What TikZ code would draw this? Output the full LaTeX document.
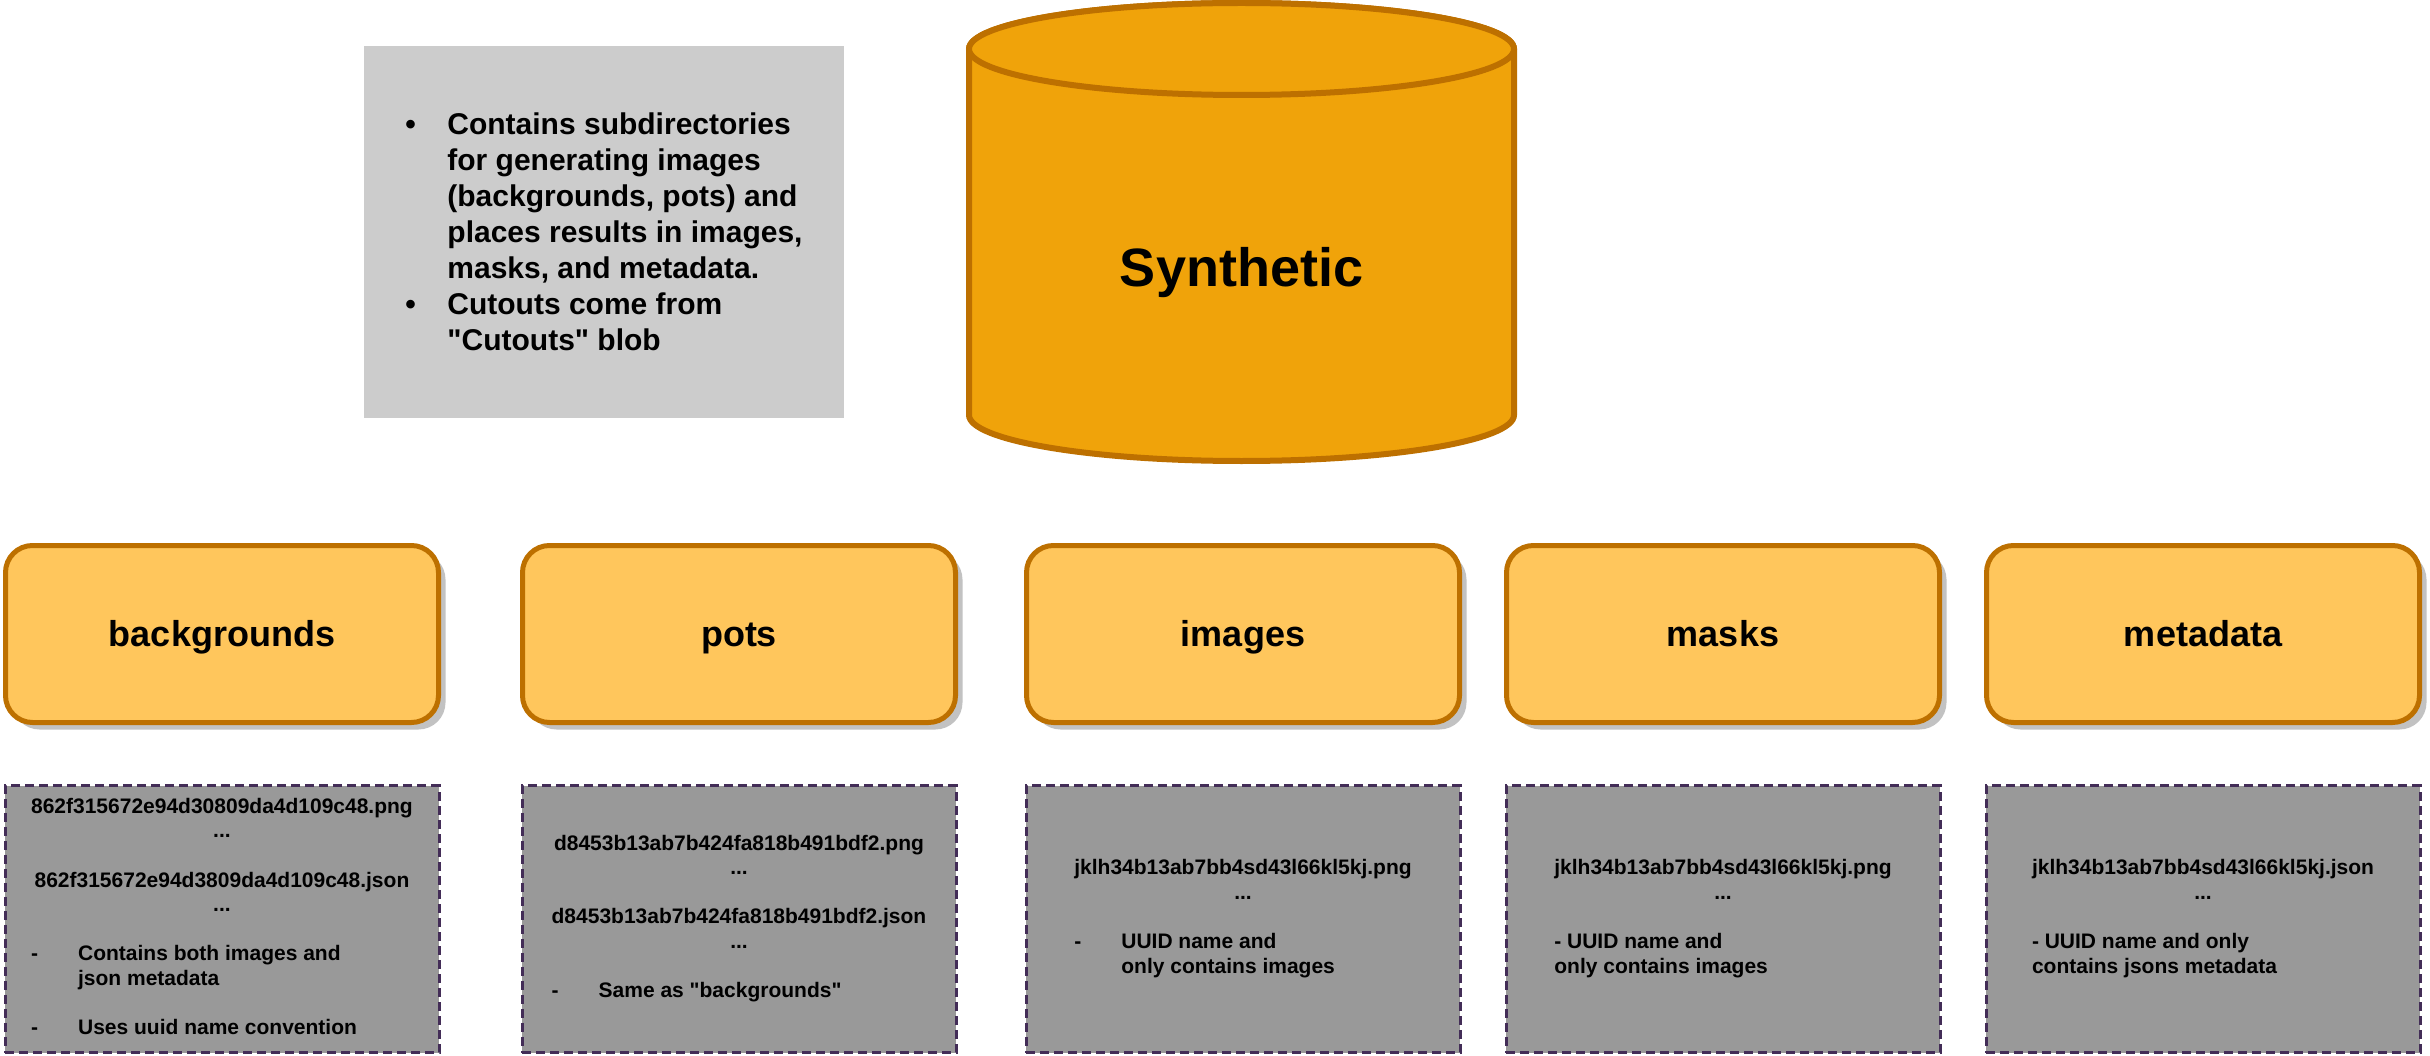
\documentclass[tikz,border=0pt]{standalone}
\usepackage{fontspec}
\setmainfont{Liberation Sans}
\usepackage{xcolor}
\usepackage{tikz}
\usetikzlibrary{shapes,positioning,shadows}
\definecolor{cylfill}{HTML}{F0A30A}
\definecolor{orangeline}{HTML}{BD7000}
\definecolor{dirfill}{HTML}{FFC65C}
\definecolor{notegray}{HTML}{CCCCCC}
\definecolor{filegray}{HTML}{999999}
\definecolor{filedash}{HTML}{432D57}
\definecolor{shadowgray}{HTML}{C2C2C2}
\newcommand{\itemdash}{\makebox[47pt][l]{-}}
\newcommand{\leftrow}[1]{\multicolumn{1}{@{}l@{}}{#1}}

\begin{document}
\begin{tikzpicture}[x=1pt, y=-1pt, node distance=59pt,
    dirbox/.style={draw=orangeline, fill=dirfill, line width=5pt, rounded corners=27pt,
        minimum width=433pt, minimum height=177pt, text height=32.6pt, text depth=7.6pt,
        font=\fontsize{36}{43}\selectfont\bfseries,
        drop shadow={shadow xshift=7pt, shadow yshift=-7pt, fill=shadowgray, opacity=1}},
    filebox/.style={draw=filedash, fill=filegray, line width=3pt, dash pattern=on 9pt off 5pt,
        minimum width=434pt, minimum height=267pt, inner sep=0pt,
        font=\fontsize{21}{24.6}\selectfont\bfseries},
    cylpart/.style={draw=orangeline, fill=cylfill, line width=6pt}]
\useasboundingbox (0,0) rectangle (2430,1056);

% note box
\node[fill=notegray, minimum width=480pt, minimum height=372pt, inner sep=0pt,
    align=left, font=\fontsize{30}{36}\selectfont\bfseries] (note) at (604,232) {%
    \makebox[42pt][l]{\textbullet}Contains subdirectories\\
    \hspace*{42pt}for generating images\\
    \hspace*{42pt}(backgrounds, pots) and\\
    \hspace*{42pt}places results in images,\\
    \hspace*{42pt}masks, and metadata.\\
    \makebox[42pt][l]{\textbullet}Cutouts come from\\
    \hspace*{42pt}\textquotedbl Cutouts\textquotedbl{} blob};

% container
\path[cylpart] (969,49) -- (969,415) arc[start angle=180, end angle=0, x radius=272.5, y radius=46]
    -- (1514,49) arc[start angle=0, end angle=-180, x radius=272.5, y radius=46] -- cycle;
\draw[cylpart] (1241.5,49) ellipse[x radius=272.5, y radius=46];
\node[anchor=base, font=\fontsize{54}{64}\selectfont\bfseries] (synthetic) at (1241.5,287) {Synthetic};

% subdirectories
\node[dirbox] (backgrounds) at (222,634) {backgrounds};
\node[dirbox, right=79pt of backgrounds] (pots) {pots};
\node[dirbox, right=66pt of pots] (images) {images};
\node[dirbox, right=42pt of images] (masks) {masks};
\node[dirbox, right=42pt of masks] (metadata) {metadata};

% contents
\node[filebox, below=of backgrounds] (bgfiles) {\begin{tabular}{@{}c@{}}
    862f315672e94d30809da4d109c48.png\\
    ...\\
    \\
    862f315672e94d3809da4d109c48.json\\
    ...\\
    \\
    \leftrow{\itemdash Contains both images and}\\
    \leftrow{\hspace*{47pt}json metadata}\\
    \\
    \leftrow{\itemdash Uses uuid name convention}
\end{tabular}};
\node[filebox, below=of pots] (potfiles) {\begin{tabular}{@{}c@{}}
    d8453b13ab7b424fa818b491bdf2.png\\
    ...\\
    \\
    d8453b13ab7b424fa818b491bdf2.json\\
    ...\\
    \\
    \leftrow{\itemdash Same as \textquotedbl backgrounds\textquotedbl}
\end{tabular}};
\node[filebox, below=of images] (imgfiles) {\begin{tabular}{@{}c@{}}
    jklh34b13ab7bb4sd43l66kl5kj.png\\
    ...\\
    \\
    \leftrow{\itemdash UUID name and}\\
    \leftrow{\hspace*{47pt}only contains images}
\end{tabular}};
\node[filebox, below=of masks] (maskfiles) {\begin{tabular}{@{}c@{}}
    jklh34b13ab7bb4sd43l66kl5kj.png\\
    ...\\
    \\
    \leftrow{- UUID name and}\\
    \leftrow{only contains images}
\end{tabular}};
\node[filebox, below=of metadata] (metafiles) {\begin{tabular}{@{}c@{}}
    jklh34b13ab7bb4sd43l66kl5kj.json\\
    ...\\
    \\
    \leftrow{- UUID name and only}\\
    \leftrow{contains jsons metadata}
\end{tabular}};
\end{tikzpicture}
\end{document}
